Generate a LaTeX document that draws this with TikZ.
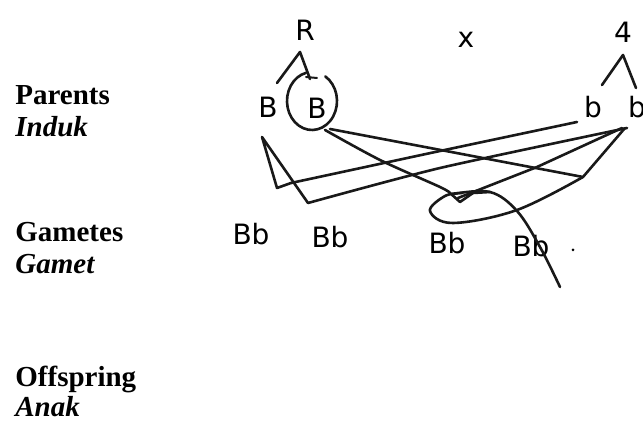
\documentclass[tikz,border=0pt]{standalone}
\usepackage{fontspec}
\setmainfont{Liberation Serif}
\newfontfamily\handfont{DejaVu Sans}
\usetikzlibrary{positioning}

\begin{document}
\begin{tikzpicture}[x=0.5pt, y=-0.5pt, line cap=round, line join=round,
          rowlabel/.style={anchor=base west, inner sep=0pt,
            font=\fontsize{14.5}{16}\selectfont\bfseries},
          allele/.style={inner sep=0pt, font=\handfont\fontsize{14}{16}\selectfont},
          scrawl/.style={draw=black!90, line width=1.3pt}]
        \useasboundingbox (0,0) rectangle (643,426);
        % row labels
        \node[rowlabel] (parents) at (15,105) {Parents};
        \node[rowlabel, font=\fontsize{14.5}{16}\selectfont\bfseries\itshape]
              (induk) at (15,137) {Induk};
        \node[rowlabel] (gametes) at (15,242) {Gametes};
        \node[rowlabel, font=\fontsize{14.5}{16}\selectfont\bfseries\itshape]
              (gamet) at (15,274) {Gamet};
        \node[rowlabel] (offspring) at (15,387) {Offspring};
        \node[rowlabel, font=\fontsize{14.5}{16}\selectfont\bfseries\itshape]
              (anak) at (15,417) {Anak};
        % parents
        \node[allele] (pr) at (305,30) {R};
        \node[allele] (cross) at (466,40) {x};
        \node[allele] (py) at (623,32) {4};
        \node[allele] (pB1) at (268,107) {B};
        \node[allele] (pB2) at (317,108) {B};
        \node[allele] (pb1) at (593,107) {b};
        \node[allele] (pb2) at (637,107) {b};
        % gametes
        \foreach \g/\x/\y in {1/251/234, 2/330/237, 3/447/243, 4/531/246}{
          \node[allele] (g\g) at (\x,\y) {Bb};
        }
        \fill (573,250) circle[radius=1.5];
        % carets under the parents
        \draw[scrawl] (277,83) -- (300,52) -- (310,79);
        \draw[scrawl, line width=1pt] (306,77) -- (317,78);
        \draw[scrawl] (602,85) -- (623,55) -- (636,88);
        % loop round the second B
        \coordinate (loopc) at (312,101);
        \draw[scrawl] (loopc) ++(-58:25 and 29)
              arc[start angle=-58, end angle=256, x radius=25, y radius=29];
        % strokes from the left B
        \coordinate (top) at (262,137);
        \draw[scrawl] (291,183) -- (277,188) -- (top) -- (308,203);
        \draw[scrawl] plot[smooth, tension=0.4] coordinates
              {(291,183) (440,151) (577,122)};
        \draw[scrawl] plot[smooth, tension=0.4] coordinates
              {(308,203) (440,168) (627,128)};
        % strokes from the looped B
        \coordinate (vee) at (583,177);
        \draw[scrawl] (330,129) -- (vee) -- (625,128);
        \draw[scrawl] plot[smooth, tension=0.5] coordinates
              {(325,130) (380,160) (440,187) (450,193)}
              -- (460,202) -- (473,193) -- (490,192);
        \draw[scrawl] plot[smooth, tension=0.6] coordinates
              {(453,194) (490,192) (517,211) (540,247) (560,287)};
        % strokes from the right b
        \draw[scrawl] (622,128) -- (537,167) -- (458,198);
        \draw[scrawl] plot[smooth, tension=0.6] coordinates
              {(vee) (517,210) (453,223) (430,211) (445,196) (462,193)};
      \end{tikzpicture}
\end{document}
